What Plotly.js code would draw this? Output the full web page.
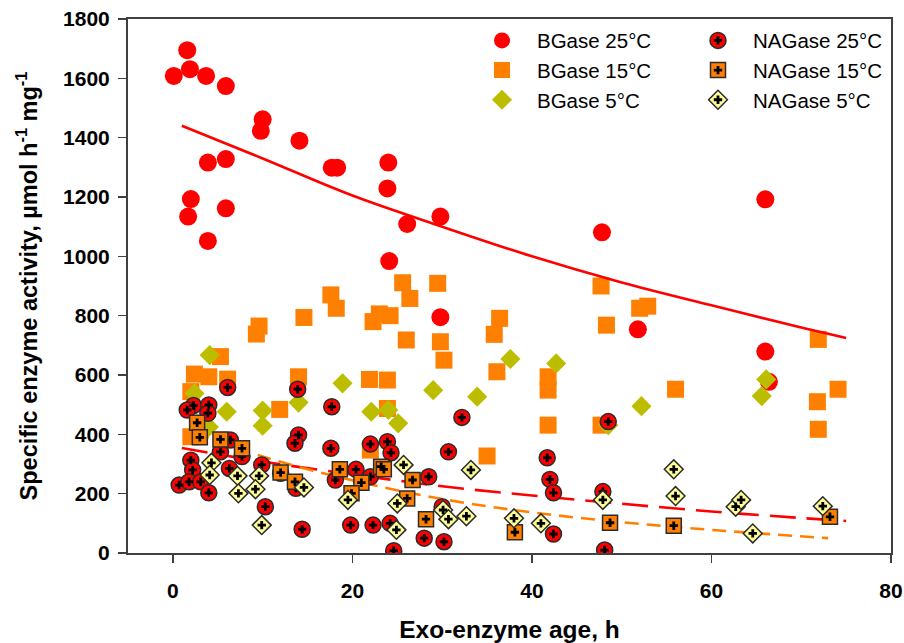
<!DOCTYPE html>
<html>
<head>
<meta charset="utf-8">
<script src="https://cdn.plot.ly/plotly-3.0.1.min.js"></script>
<style>html,body{margin:0;padding:0;background:#fff;}#chart{width:904px;height:643px;}</style>
</head>
<body>
<div id="chart"></div>
<script>
// ---- data ----
var bg25_x = [0.1,1.6,1.9,3.7,5.9,10,9.8,14.1,17.7,18.3,24,23.9,26.1,29.8,24.1,3.9,5.9,2,1.7,5.9,3.9,29.8,47.8,66,51.8,66,66.4];
var bg25_y = [1608,1695,1631,1608,1574,1462,1423,1390,1299,1299,1316,1229,1109,1134,984,1316,1328,1193,1134,1162,1052,795,1081,1192,754,679,577];

var bg15_x = [17.6,25.6,29.5,26.4,18.2,14.6,9.6,9.3,22.3,23,24.2,26,29.8,30.2,5.3,2.4,4,6.1,2,14,21.9,23.9,11.9,23.9,2,22,35,47.7,52,52.9,48.3,36.4,35.8,36.1,41.8,41.8,41.8,47.7,56,71.9,71.8,74.1,71.9];
var bg15_y = [870,911,909,858,825,794,765,738,780,806,800,718,712,650,662,603,594,586,544,594,585,583,484,487,392,347,327,900,825,832,768,791,737,611,594,549,431,431,552,720,510,552,417];

var bg5_x = [4.1,2.4,6,10,10,14,18.9,22.1,24,25.1,29,33.9,37.6,42.7,52.2,66.1,65.6,48.5,4];
var bg5_y = [667,538,476,480,429,507,572,476,482,437,549,527,654,639,495,585,529,431,425];

var nag25_x = [6.1,13.9,2.3,4,1.6,3.9,17.7,32.2,14,13.6,17.6,22,23.9,24.3,30.7,6.4,5.3,7.7,2,2.2,6.3,9.9,0.7,1.8,3.1,4,12,13.7,20.4,18.1,22,28.5,10.3,14.4,19.8,22.3,24.2,24.6,28,30.2,30,48.5,41.7,42,42.4,42.4,47.9,48.1];
var nag25_y = [558,552,497,499,482,471,493,457,398,370,353,367,375,338,341,381,341,325,313,280,285,297,229,240,240,203,269,218,282,246,257,257,156,80,94,94,100,8,50,38,156,443,321,248,203,64,207,10];

var nag15_x = [2.7,3,5.3,7.7,12,13.6,18.6,21,23.2,23.5,26.7,26.1,19.9,28.2,38.1,48.7,55.8,73.2];
var nag15_y = [439,390,383,353,271,240,282,237,291,282,246,184,201,114,70,102,92,122];

var nag5_x = [4.3,4.1,7.2,9.6,7.3,9.2,14.6,9.9,25.7,19.5,25,33.2,30.1,30.7,32.7,24.9,38,41,47.9,55.8,56,62.7,63.3,64.6,72.4];
var nag5_y = [304,263,260,260,201,215,221,94,297,179,167,280,145,114,124,78,117,100,179,282,192,156,179,66,158];

// trend curves
var fitBg25_x = [1,10,20,30,40,50,60,70,75];
var fitBg25_y = [1440,1330,1205,1100,1000,912,835,760,725];
var fitNag25_x = [1,10,20,30,40,50,60,70,75];
var fitNag25_y = [354,308,265,225,194,166,140,118,108];
var fitNag15_x = [2.5,10,20,30,40,50,60,73];
var fitNag15_y = [405,325,245,182,137,104,78,50];

var names = ['BGase 25°C','BGase 15°C','BGase 5°C','NAGase 25°C','NAGase 15°C','NAGase 5°C'];

// ---- styling ----
var RED = '#ff0000', ORANGE = '#ff8000', OLIVE = '#bdbd00', PALE = '#ffff99', EDGE = '#2b2b2b';
var FONT = 'Liberation Sans, Arial, Helvetica, sans-serif';

function pts(x, y, name, symbol, size, color, lineW, legend) {
  return {x: x, y: y, type: 'scatter', mode: 'markers', name: name, legend: legend,
    marker: {symbol: symbol, size: size, color: color, line: {width: lineW, color: EDGE}}};
}
function cross(x, y, name, legend) {
  return {x: x, y: y, type: 'scatter', mode: 'markers', name: name, legend: legend,
    hoverinfo: 'skip', marker: {symbol: 'cross', size: 7, color: '#000', line: {width: 0}}};
}
function curve(x, y, color, dash) {
  return {x: x, y: y, type: 'scatter', mode: 'lines', showlegend: false, hoverinfo: 'skip',
    line: {color: color, width: 2.6, dash: dash, shape: 'spline'}};
}

var data = [
  pts(bg25_x, bg25_y, names[0], 'circle', 18, RED, 0, 'legend'),
  pts(bg15_x, bg15_y, names[1], 'square', 17, ORANGE, 0, 'legend'),
  pts(bg5_x, bg5_y, names[2], 'diamond', 15.5, OLIVE, 0, 'legend'),
  curve(fitBg25_x, fitBg25_y, RED, 'solid'),
  curve(fitNag25_x, fitNag25_y, RED, '26px,11px'),
  curve(fitNag15_x, fitNag15_y, ORANGE, '14px,8px'),
  pts(nag25_x, nag25_y, names[3], 'circle', 16, RED, 1.5, 'legend2'),
  cross(nag25_x, nag25_y, names[3], 'legend3'),
  pts(nag15_x, nag15_y, names[4], 'square', 15, ORANGE, 1.5, 'legend2'),
  cross(nag15_x, nag15_y, names[4], 'legend3'),
  pts(nag5_x, nag5_y, names[5], 'diamond', 14.5, PALE, 1.5, 'legend2'),
  cross(nag5_x, nag5_y, names[5], 'legend3')
];

var axisCommon = {
  showline: true, linecolor: '#404040', linewidth: 2, mirror: true,
  ticks: 'outside', ticklen: 8, tickwidth: 1.5, tickcolor: '#404040',
  showgrid: false, zeroline: false,
  tickfont: {family: FONT, size: 21, color: '#000', weight: 'bold'}
};

var legendCommon = {
  font: {family: FONT, size: 20.5, color: '#000'}, bgcolor: 'rgba(0,0,0,0)', borderwidth: 0,
  itemwidth: 60, xanchor: 'left', yanchor: 'top', y: 0.997, tracegroupgap: 0, itemclick: false
};

var layout = {
  width: 904, height: 643,
  margin: {l: 128, r: 13, t: 19, b: 90},
  paper_bgcolor: '#fff', plot_bgcolor: '#fff',
  showlegend: true,
  xaxis: Object.assign({}, axisCommon, {
    range: [-5, 80], tickvals: [0, 20, 40, 60, 80], ticklabelstandoff: 10,
    title: {text: 'Exo-enzyme age, h', standoff: 21, font: {family: FONT, size: 24.5, color: '#000', weight: 'bold'}}
  }),
  yaxis: Object.assign({}, axisCommon, {
    range: [0, 1800], tickvals: [0,200,400,600,800,1000,1200,1400,1600,1800], ticklabelstandoff: 4,
    title: {text: 'Specific enzyme activity, µmol h<sup>-1</sup> mg<sup>-1</sup>', standoff: 19,
      font: {family: FONT, size: 23.5, color: '#000', weight: 'bold'}}
  }),
  legend: Object.assign({}, legendCommon, {x: (467 - 128) / 763}),
  legend2: Object.assign({}, legendCommon, {x: (683 - 128) / 763}),
  legend3: Object.assign({}, legendCommon, {x: (683 - 128) / 763, font: {family: FONT, size: 20.5, color: 'rgba(0,0,0,0)'}})
};

Plotly.newPlot('chart', data, layout, {displayModeBar: false, staticPlot: true});
</script>
</body>
</html>
